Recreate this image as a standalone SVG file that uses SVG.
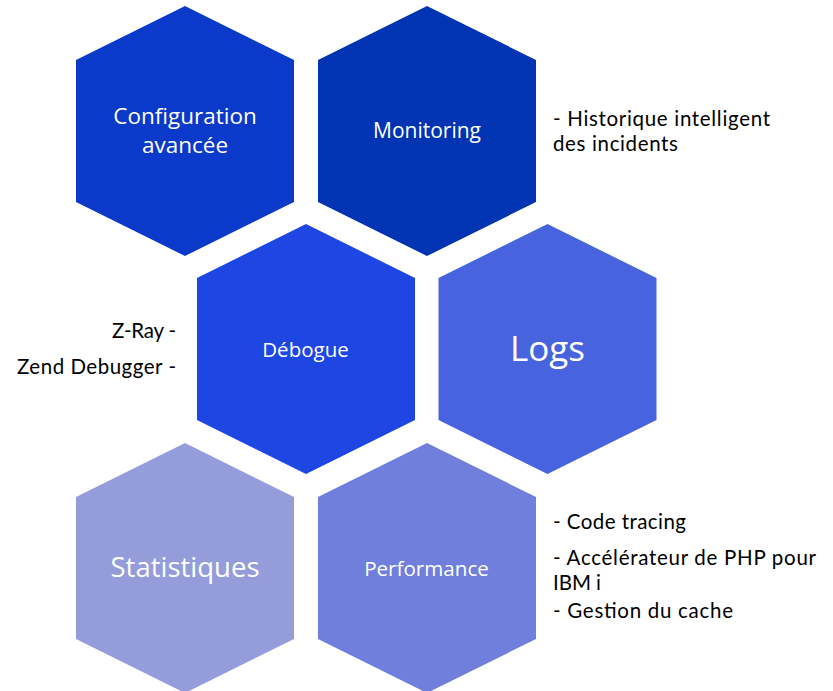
<svg xmlns="http://www.w3.org/2000/svg" width="833" height="691" viewBox="0 0 833 691">
<style>
.lbl{font-family:"Open Sans","Noto Sans","DejaVu Sans",sans-serif;fill:#ffffff;text-anchor:middle}
.side{font-family:Lato,"Open Sans","DejaVu Sans",sans-serif;fill:#000000;font-size:20.5px}
</style>
<defs>
<polygon id="hex" points="109,0 218,54 218,196 109,250 0,196 0,54"/>
</defs>
<rect width="833" height="691" fill="#ffffff"/>
<g id="node-configuration">
<use href="#hex" x="76" y="6" fill="#0B3ACA"/>
<text class="lbl" x="185" y="124" font-size="22.5">Configuration<tspan x="185" y="153">avancée</tspan></text>
</g>
<g id="node-monitoring">
<use href="#hex" x="318" y="6" fill="#0134B3"/>
<text class="lbl" x="427" y="138" font-size="21">Monitoring</text>
</g>
<g id="node-debogue">
<use href="#hex" x="197" y="224" fill="#1D46E3"/>
<text class="lbl" x="305.5" y="356.5" font-size="20.5">Débogue</text>
</g>
<g id="node-logs">
<use href="#hex" x="438.5" y="224" fill="#4863DE"/>
<text class="lbl" x="547.5" y="360.5" font-size="35">Logs</text>
</g>
<g id="node-statistiques">
<use href="#hex" x="76" y="443" fill="#949DDA"/>
<text class="lbl" x="185" y="576.5" font-size="27.5">Statistiques</text>
</g>
<g id="node-performance">
<use href="#hex" x="318" y="443" fill="#6F7FDB"/>
<text class="lbl" x="426.5" y="575.5" font-size="20.6">Performance</text>
</g>
<g id="notes-monitoring">
<text class="side" x="553" y="125.5" textLength="217">- Historique intelligent</text>
<text class="side" x="553" y="150.5" textLength="125">des incidents</text>
</g>
<g id="notes-debogue">
<text class="side" x="112" y="337.5" textLength="64">Z-Ray -</text>
<text class="side" x="17" y="373.5" textLength="159">Zend Debugger -</text>
</g>
<g id="notes-performance">
<text class="side" x="553" y="528.5" textLength="133">- Code tracing</text>
<text class="side" x="553" y="565" textLength="263">- Accélérateur de PHP pour</text>
<text class="side" x="553" y="590" textLength="48">IBM i</text>
<text class="side" x="553" y="618" textLength="180">- Gestion du cache</text>
</g>
<g id="connectors"></g>
</svg>
